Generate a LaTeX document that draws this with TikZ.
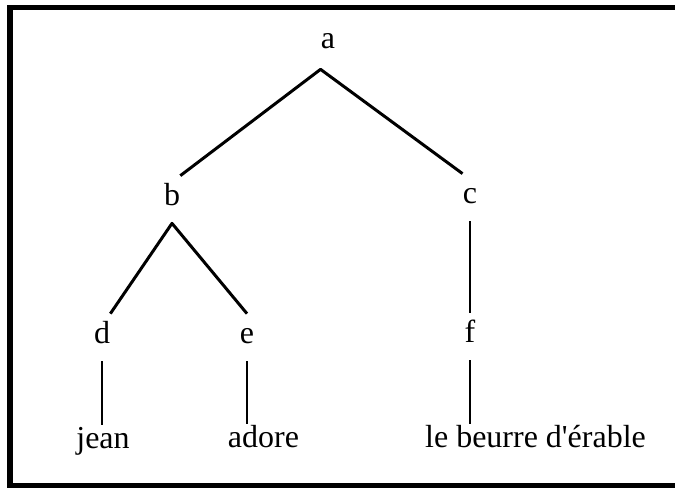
\documentclass[tikz,border=0pt]{standalone}
\usepackage{fontspec}
\setmainfont{Liberation Serif}
\usepackage{tikz}
\usetikzlibrary{arrows.meta,calc}

\begin{document}
\begin{tikzpicture}[>=Latex,font=\fontsize{18.2}{22}\selectfont]
\tikzset{cat/.style={anchor=base,inner sep=0pt,text height=0.58cm,text depth=0.36cm},
  word/.style={anchor=base,inner sep=0pt,text height=0.46cm,text depth=0pt},
  branch/.style={line width=1.7pt,line join=round},
  frame/.style={line width=0.1cm}}
\useasboundingbox (0,0) rectangle (13.5,9.8);
\draw[frame] (13.5,9.65) -- (0.2,9.65) -- (0.2,0.1) -- (13.5,0.1);
% categories
\node[cat,text depth=0.42cm] (a) at (6.56,8.84) {a};
\node[cat] (b) at (3.44,5.70) {b};
\node[cat] (c) at (9.40,5.74) {c};
\node[cat] (d) at (2.04,2.94) {d};
\node[cat] (e) at (4.94,2.94) {e};
\node[cat] (f) at (9.40,2.96) {f};
% words
\node[word] (jean) at (2.06,0.84) {jean};
\node[word] (adore) at (5.27,0.86) {adore};
\node[word] (erable) at (10.71,0.86) {le beurre d\textquotesingle érable};
\draw[branch] (b.north east) -- (a.south west) -- (c.north west);
\draw[branch] (d.north east) -- (b.south) -- (e.north);
\draw[branch] (c.south) -- (c.south |- f.north);
\foreach \u/\w in {d/jean,e/adore,f/erable}{\draw[branch] (\u.south) -- (\u.south |- \w.north);}
\end{tikzpicture}
\end{document}
